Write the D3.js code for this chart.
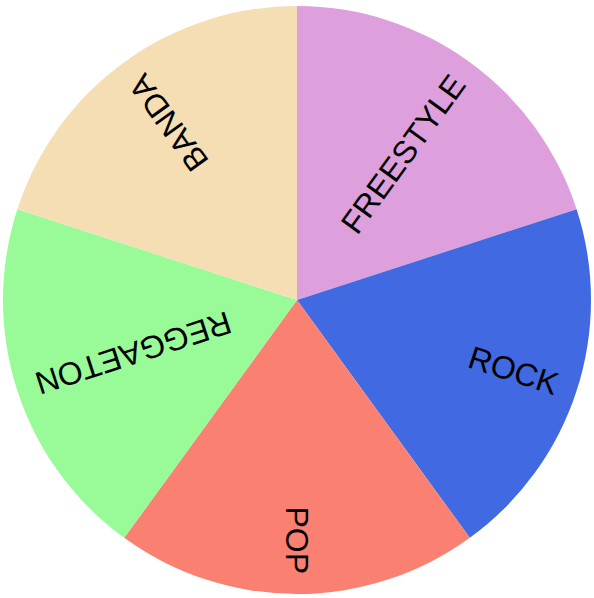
<!DOCTYPE html>
<html>
<head>
<meta charset="utf-8">
<script src="https://cdn.jsdelivr.net/npm/d3@7"></script>
<style>
  html, body { margin: 0; padding: 0; background: #fff; }
  svg { display: block; }
</style>
</head>
<body>
<svg id="chart" width="594" height="598"></svg>
<script>
const categories = ["FREESTYLE", "ROCK", "POP", "REGGAETON", "BANDA"];
const values = [1, 1, 1, 1, 1];
const colors = ["#DDA0DD", "#4169E1", "#FA8072", "#98FB98", "#F5DEB3"];

const svg = d3.select("#chart");
const cx = 297, cy = 300, radius = 294;

const data = categories.map((c, i) => ({ name: c, value: values[i], color: colors[i] }));

const pie = d3.pie().value(d => d.value).sort(null);
const arc = d3.arc().innerRadius(0).outerRadius(radius);

const g = svg.append("g").attr("transform", `translate(${cx},${cy})`);

const arcs = pie(data);

g.selectAll("path")
  .data(arcs)
  .join("path")
  .attr("d", arc)
  .attr("fill", d => d.data.color);

g.selectAll("text")
  .data(arcs)
  .join("text")
  .attr("transform", d => {
    const a = (d.startAngle + d.endAngle) / 2 * 180 / Math.PI;
    return `rotate(${a - 90}) translate(${radius - 20},0)`;
  })
  .attr("text-anchor", "end")
  .attr("dy", "0.35em")
  .style("font-family", "'Liberation Sans', Arial, Helvetica, sans-serif")
  .style("font-size", "32px")
  .attr("fill", "#000")
  .text(d => d.data.name);
</script>
</body>
</html>
